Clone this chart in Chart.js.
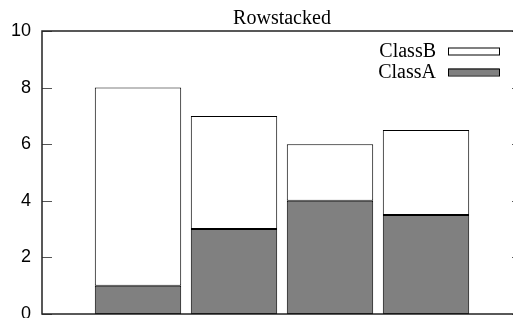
<!DOCTYPE html>
<html>
<head>
<meta charset="utf-8">
<script src="https://cdn.jsdelivr.net/npm/chart.js@4.4.0/dist/chart.umd.min.js"></script>
<style>
  html, body { margin: 0; padding: 0; overflow: hidden; background: #fff; width: 513px; height: 318px; }
  #wrap { position: absolute; left: 0; top: 0; width: 540px; height: 340px; }
</style>
</head>
<body>
<div id="wrap"><canvas id="c" width="540" height="340"></canvas></div>
<script>
const titleText = 'Rowstacked';
const categories = ['1', '2', '3', '4'];
const classA = [1, 3, 4, 3.5];
const classB = [7, 4, 2, 3];
const yTicks = [0, 2, 4, 6, 8, 10];

// pad one empty slot at each end so the frame spans 0..5 in category units
const labels = [''].concat(categories, ['']);
const padData = arr => [null].concat(arr, [null]);

const framePlugin = {
  id: 'frame',
  afterDatasetsDraw(chart) {
    const { ctx, chartArea: a, scales } = chart;
    const y = scales.y;
    ctx.save();
    ctx.strokeStyle = '#555';
    ctx.lineWidth = 1;
    yTicks.forEach(v => {
      const py = Math.round(y.getPixelForValue(v)) + 0.5;
      ctx.beginPath();
      ctx.moveTo(a.left, py); ctx.lineTo(a.left + 10, py);
      ctx.moveTo(a.right, py); ctx.lineTo(a.right - 10, py);
      ctx.stroke();
    });
    ctx.strokeStyle = '#222';
    ctx.lineWidth = 1.5;
    ctx.strokeRect(a.left, a.top, a.right - a.left, a.bottom - a.top);
    const items = [
      { ds: chart.data.datasets[1], cy: 51 },
      { ds: chart.data.datasets[0], cy: 72 }
    ];
    ctx.font = '20px "Liberation Serif"';
    ctx.textAlign = 'right';
    ctx.textBaseline = 'middle';
    items.forEach(it => {
      ctx.fillStyle = '#000';
      ctx.fillText(it.ds.label, 436, it.cy + 1);
      ctx.fillStyle = it.ds.backgroundColor;
      ctx.fillRect(448, it.cy - 3.5, 51, 7);
      ctx.strokeStyle = '#000';
      ctx.lineWidth = 1;
      ctx.strokeRect(448.5, it.cy - 3, 51, 7);
    });
    ctx.restore();
  }
};

new Chart(document.getElementById('c'), {
  type: 'bar',
  data: {
    labels: labels,
    datasets: [
      { label: 'ClassA', data: padData(classA), backgroundColor: '#808080', borderColor: '#000', borderWidth: 1, borderSkipped: false, categoryPercentage: 1, barPercentage: 0.9 },
      { label: 'ClassB', data: padData(classB), backgroundColor: '#ffffff', borderColor: '#000', borderWidth: 1, borderSkipped: false, categoryPercentage: 1, barPercentage: 0.9 }
    ]
  },
  options: {
    responsive: false,
    animation: false,
    layout: { padding: { left: 0, top: 0, right: 18, bottom: 26 } },
    plugins: {
      legend: { display: false },
      tooltip: { enabled: false },
      title: {
        display: true,
        text: titleText,
        fullSize: false,
        color: '#000',
        font: { family: 'Liberation Serif', size: 20, weight: 'normal', lineHeight: 1.2 },
        padding: { top: 7, bottom: 0 }
      }
    },
    scales: {
      x: {
        display: false,
        stacked: true,
        offset: false
      },
      y: {
        stacked: true,
        min: 0,
        max: 10,
        border: { display: false },
        grid: { display: false, drawTicks: false },
        ticks: {
          stepSize: 2,
          padding: 11,
          color: '#000',
          font: { family: 'Liberation Sans', size: 18 }
        },
        afterFit(scale) { scale.width = 42; }
      }
    }
  },
  plugins: [framePlugin]
});
</script>
</body>
</html>
